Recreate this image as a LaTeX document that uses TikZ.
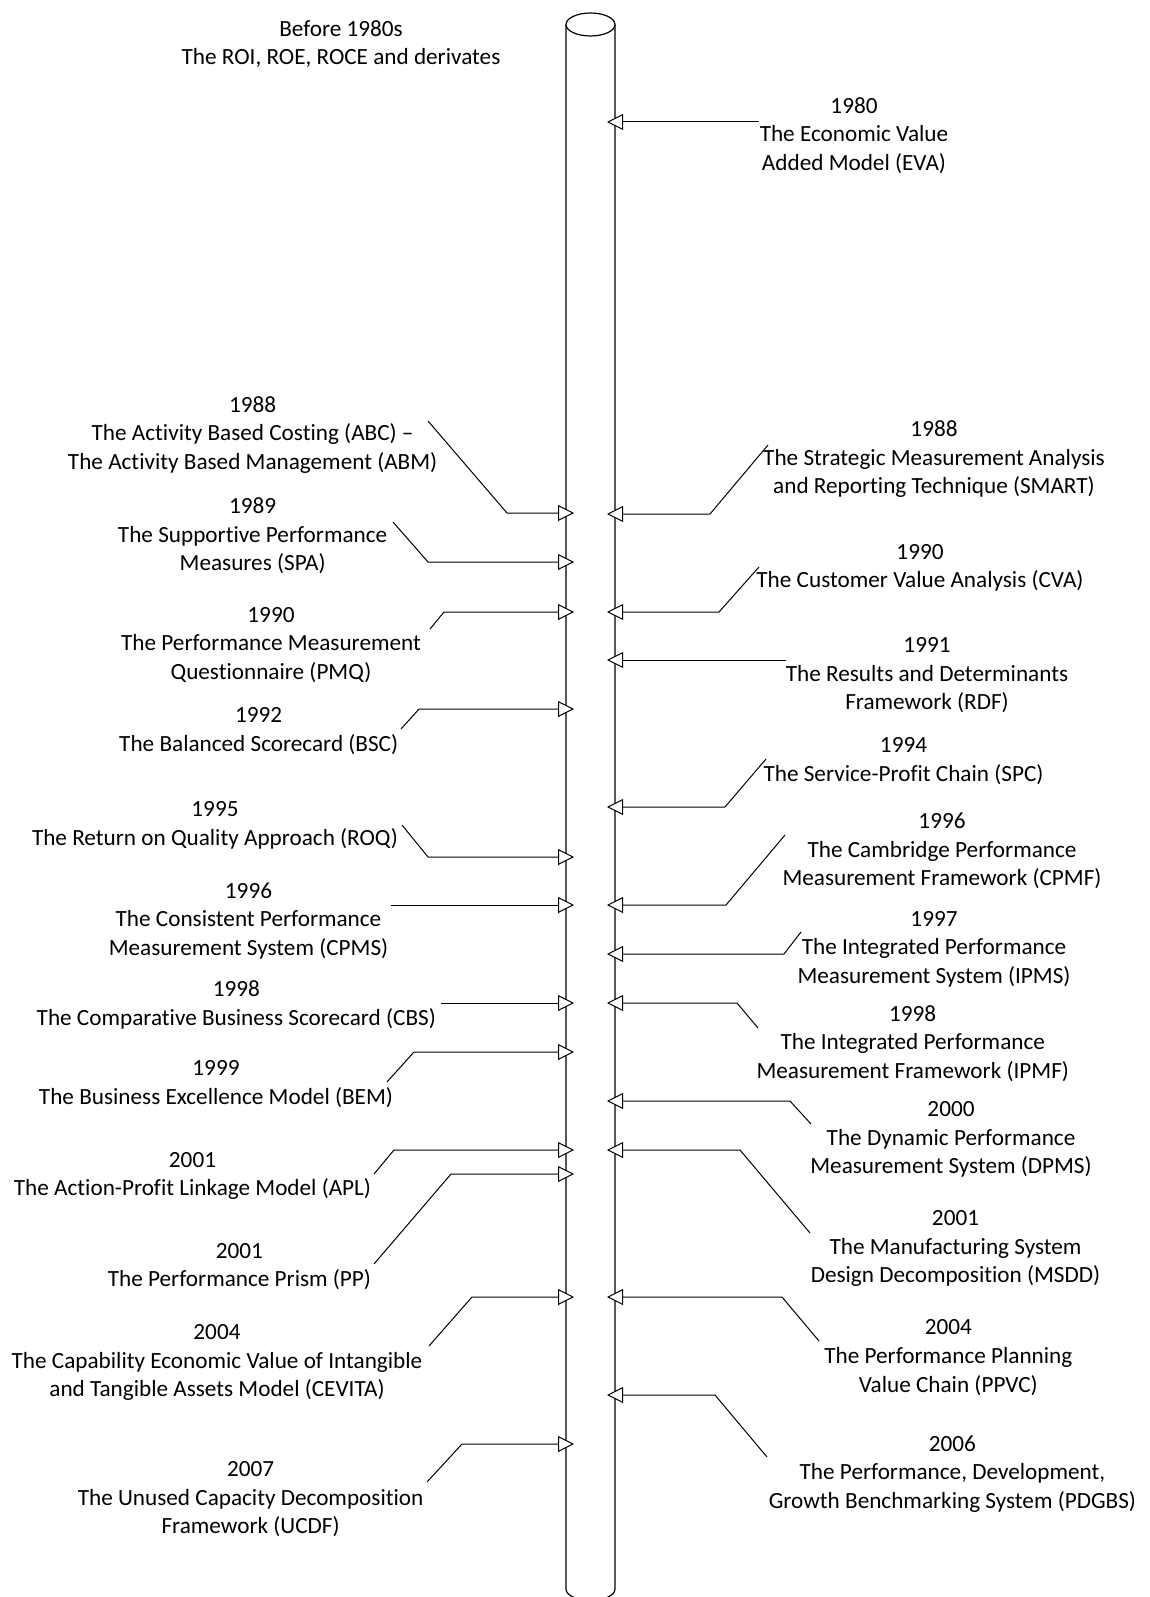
\documentclass[tikz,border=0pt]{standalone}
\usepackage{fontspec}
\setmainfont{Carlito}[Ligatures={NoCommon},Contextuals={NoAlternate}]
\usetikzlibrary{arrows.meta}
\begin{document}
\begin{tikzpicture}[x=1pt,y=-1pt,
  lbl/.style={align=center,inner sep=0pt,font=\fontsize{23.2pt}{28.6pt}\selectfont},
  conn/.style={line width=1pt,-{Triangle[length=16pt,width=16pt,fill=white]}},
  cyl/.style={line width=1.2pt}]
\useasboundingbox (0,0) rectangle (1150,1597);
% cylinder
\begin{scope}
\clip (0,0) rectangle (1150,1597);
\draw[cyl] (566,24.5) -- (566,1589) arc[start angle=180,end angle=0,x radius=24.5,y radius=11.5] -- (615,24.5);
\draw[cyl,fill=white] (590.5,24.5) ellipse [x radius=24.5,y radius=11.5];
\end{scope}
\node[lbl] (n0) at (341,44) {Before 1980s\\The ROI, ROE, ROCE and derivates};
% right labels
\node[lbl] (eva) at (854,135.5) {1980\\The Economic Value\\Added Model (EVA)};
\node[lbl] (smart) at (934,459.4) {1988\\The Strategic Measurement Analysis\\and Reporting Technique (SMART)};
\node[lbl] (cva) at (920,567.8) {1990\\The Customer Value Analysis (CVA)};
\node[lbl] (rdf) at (927,675.3) {1991\\The Results and Determinants\\Framework (RDF)};
\node[lbl] (spc) at (903.5,761.3) {1994\\The Service-Profit Chain (SPC)};
\node[lbl] (cpmf) at (942,851) {1996\\The Cambridge Performance\\Measurement Framework (CPMF)};
\node[lbl] (ipms) at (934,949.3) {1997\\The Integrated Performance\\Measurement System (IPMS)};
\node[lbl] (ipmf) at (912.7,1043.5) {1998\\The Integrated Performance\\Measurement Framework (IPMF)};
\node[lbl] (dpms) at (951,1139.5) {2000\\The Dynamic Performance\\Measurement System (DPMS)};
\node[lbl] (msdd) at (955.5,1248.5) {2001\\The Manufacturing System\\Design Decomposition (MSDD)};
\node[lbl] (ppvc) at (948.3,1357.5) {2004\\The Performance Planning\\Value Chain (PPVC)};
\node[lbl] (pdgbs) at (952.4,1474) {2006\\The Performance, Development,\\Growth Benchmarking System (PDGBS)};
% left labels
\node[lbl] (abc) at (252.6,435) {1988\\The Activity Based Costing (ABC) --\\The Activity Based Management (ABM)};
\node[lbl] (spa) at (252.6,535.8) {1989\\The Supportive Performance\\Measures (SPA)};
\node[lbl] (pmq) at (271,644.8) {1990\\The Performance Measurement\\Questionnaire (PMQ)};
\node[lbl] (bsc) at (258.7,730.8) {1992\\The Balanced Scorecard (BSC)};
\node[lbl] (roq) at (215,825.5) {1995\\The Return on Quality Approach (ROQ)};
\node[lbl] (cpms) at (248.5,920.8) {1996\\The Consistent Performance\\Measurement System (CPMS)};
\node[lbl] (cbs) at (236.3,1004.8) {1998\\The Comparative Business Scorecard (CBS)};
\node[lbl] (bem) at (216,1084.3) {1999\\The Business Excellence Model (BEM)};
\node[lbl] (apl) at (192.5,1175.8) {2001\\The Action-Profit Linkage Model (APL)};
\node[lbl] (pp) at (239.4,1266.7) {2001\\The Performance Prism (PP)};
\node[lbl] (cevita) at (217,1362.5) {2004\\The Capability Economic Value of Intangible\\and Tangible Assets Model (CEVITA)};
\node[lbl] (ucdf) at (250.6,1499.3) {2007\\The Unused Capacity Decomposition\\Framework (UCDF)};
% connector ends
\coordinate (aABC) at (428,421);   \coordinate (tABC) at (574,513);
\coordinate (aSPA) at (393,522);   \coordinate (tSPA) at (574,562);
\coordinate (aPMQ) at (430,629);   \coordinate (tPMQ) at (574,612);
\coordinate (aBSC) at (401,729);   \coordinate (tBSC) at (574,709);
\coordinate (aROQ) at (402,825);   \coordinate (tROQ) at (574,857);
\coordinate (aCPMS) at (391,905);  \coordinate (tCPMS) at (574,905);
\coordinate (aCBS) at (441,1003);  \coordinate (tCBS) at (574,1003);
\coordinate (aBEM) at (387,1082);  \coordinate (tBEM) at (574,1052);
\coordinate (aAPL) at (374,1174);  \coordinate (tAPL) at (574,1150);
\coordinate (aPP) at (374,1264);   \coordinate (tPP) at (574,1174);
\coordinate (aCEV) at (429,1346);  \coordinate (tCEV) at (574,1297);
\coordinate (aUCDF) at (427,1482); \coordinate (tUCDF) at (574,1444);
\coordinate (aEVA) at (759,122);   \coordinate (tEVA) at (607,122);
\coordinate (aSMART) at (768,445); \coordinate (tSMART) at (607,514);
\coordinate (aCVA) at (759,567);   \coordinate (tCVA) at (607,612);
\coordinate (aRDF) at (786,660);   \coordinate (tRDF) at (607,660);
\coordinate (aSPC) at (766,759);   \coordinate (tSPC) at (607,807);
\coordinate (aCPMF) at (785,835);  \coordinate (tCPMF) at (607,905);
\coordinate (aIPMS) at (801,932);  \coordinate (tIPMS) at (607,954);
\coordinate (aIPMF) at (758,1028); \coordinate (tIPMF) at (607,1003);
\coordinate (aDPMS) at (811,1124); \coordinate (tDPMS) at (607,1101);
\coordinate (aMSDD) at (810,1233); \coordinate (tMSDD) at (607,1150);
\coordinate (aPPVC) at (819,1341); \coordinate (tPPVC) at (607,1297);
\coordinate (aPDG) at (767,1457);  \coordinate (tPDG) at (607,1395);
% left connectors
\draw[conn] (aABC) -- (507,513) -- (tABC);
\draw[conn] (aSPA) -- (428,562) -- (tSPA);
\draw[conn] (aPMQ) -- (444,612) -- (tPMQ);
\draw[conn] (aBSC) -- (419,709) -- (tBSC);
\draw[conn] (aROQ) -- (428,857) -- (tROQ);
\draw[conn] (aCPMS) -- (tCPMS);
\draw[conn] (aCBS) -- (tCBS);
\draw[conn] (aBEM) -- (414,1052) -- (tBEM);
\draw[conn] (aAPL) -- (394,1150) -- (tAPL);
\draw[conn] (aPP) -- (451,1174) -- (tPP);
\draw[conn] (aCEV) -- (472,1297) -- (tCEV);
\draw[conn] (aUCDF) -- (462,1444) -- (tUCDF);
% right connectors
\draw[conn] (aEVA) -- (tEVA);
\draw[conn] (aSMART) -- (710,514) -- (tSMART);
\draw[conn] (aCVA) -- (719,612) -- (tCVA);
\draw[conn] (aRDF) -- (tRDF);
\draw[conn] (aSPC) -- (725,807) -- (tSPC);
\draw[conn] (aCPMF) -- (726,905) -- (tCPMF);
\draw[conn] (aIPMS) -- (784,954) -- (tIPMS);
\draw[conn] (aIPMF) -- (737,1003) -- (tIPMF);
\draw[conn] (aDPMS) -- (790,1101) -- (tDPMS);
\draw[conn] (aMSDD) -- (740,1150) -- (tMSDD);
\draw[conn] (aPPVC) -- (782,1297) -- (tPPVC);
\draw[conn] (aPDG) -- (715,1395) -- (tPDG);
\end{tikzpicture}
\end{document}
